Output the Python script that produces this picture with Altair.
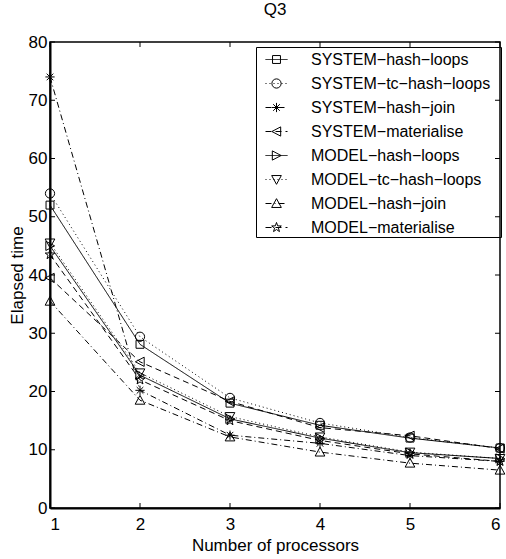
import altair as alt
import pandas as pd

# ---- data ----
processors = [1, 2, 3, 4, 5, 6]
series_names = [
    "SYSTEM\u2212hash\u2212loops",
    "SYSTEM\u2212tc\u2212hash\u2212loops",
    "SYSTEM\u2212hash\u2212join",
    "SYSTEM\u2212materialise",
    "MODEL\u2212hash\u2212loops",
    "MODEL\u2212tc\u2212hash\u2212loops",
    "MODEL\u2212hash\u2212join",
    "MODEL\u2212materialise",
]
sys_hash_loops = [52.0, 28.1, 18.0, 14.2, 12.0, 10.3]
sys_tc_hash_loops = [54.0, 29.4, 18.9, 14.6, 12.1, 10.3]
sys_hash_join = [74.0, 20.2, 12.5, 11.1, 9.0, 8.0]
sys_materialise = [39.5, 25.1, 18.3, 13.8, 12.4, 10.2]
mod_hash_loops = [45.0, 22.8, 15.3, 12.0, 9.5, 8.5]
mod_tc_hash_loops = [45.5, 23.2, 15.7, 12.2, 9.6, 8.5]
mod_hash_join = [35.5, 18.5, 12.2, 9.6, 7.7, 6.5]
mod_materialise = [43.5, 22.0, 15.0, 11.6, 9.3, 8.0]
x_ticks = [1, 2, 3, 4, 5, 6]
y_ticks = [0, 10, 20, 30, 40, 50, 60, 70, 80]

all_values = [sys_hash_loops, sys_tc_hash_loops, sys_hash_join, sys_materialise,
              mod_hash_loops, mod_tc_hash_loops, mod_hash_join, mod_materialise]

rows = []
for name, vals in zip(series_names, all_values):
    for p, v in zip(processors, vals):
        rows.append({"series": name, "series2": name, "p": p, "t": v})
df = pd.DataFrame(rows)

# ---- styles ----
SOLID = [1, 0]
DOT = [1, 3]
DASH = [6, 4]
DASHDOT = [6, 3, 1, 3]
dashes = [SOLID, DOT, DASHDOT, DASH, SOLID, DOT, DASHDOT, DASH]

square = "M-0.36,-0.36H0.36V0.36H-0.36Z"
circle = "M-0.42,0A0.42,0.42 0 1,0 0.42,0A0.42,0.42 0 1,0 -0.42,0Z"
asterisk = "M-0.42,0H0.42M0,-0.42V0.42M-0.3,-0.3L0.3,0.3M-0.3,0.3L0.3,-0.3"
tri_left = "M-0.42,0L0.38,-0.42L0.38,0.42Z"
tri_right = "M0.42,0L-0.38,-0.42L-0.38,0.42Z"
tri_down = "M-0.44,-0.36L0.44,-0.36L0,0.44Z"
tri_up = "M-0.44,0.36L0.44,0.36L0,-0.44Z"
star = ("M0,-0.46L0.108,-0.149L0.437,-0.142L0.175,0.057L0.27,0.372L0,0.184"
        "L-0.27,0.372L-0.175,0.057L-0.437,-0.142L-0.108,-0.149Z")
shapes = [square, circle, asterisk, tri_left, tri_right, tri_down, tri_up, star]

FONT = "Liberation Sans"
FS = 17
LFS = 16
W, H = 450, 466
SYM = 484

x_scale = alt.Scale(domain=[1, 6], nice=False, zero=False)
y_scale = alt.Scale(domain=[0, 80], nice=False, zero=False)

x_enc = alt.X("p:Q", scale=x_scale,
              axis=alt.Axis(values=x_ticks, title="Number of processors", format="d",
                            labelPadding=8, titlePadding=5))
y_enc = alt.Y("t:Q", scale=y_scale,
              axis=alt.Axis(values=y_ticks, title="Elapsed time", format="d",
                            labelPadding=3, titlePadding=2))

common_leg = dict(orient="none", legendX=206, legendY=5, title=None,
                  labelFontSize=LFS, labelFont=FONT, labelColor="black",
                  symbolSize=SYM, padding=1, rowPadding=4, symbolOffset=8,
                  symbolStrokeColor="black", symbolStrokeWidth=1,
                  labelLimit=400)

lines = alt.Chart(df).mark_line(color="black", strokeWidth=1).encode(
    x=x_enc, y=y_enc,
    strokeDash=alt.StrokeDash(
        "series:N", scale=alt.Scale(domain=series_names, range=dashes),
        legend=alt.Legend(symbolType="stroke", labelOffset=23, **common_leg)),
)

points = alt.Chart(df).mark_point(color="black", filled=False, size=SYM,
                                  strokeWidth=1, opacity=1).encode(
    x=alt.X("p:Q", scale=x_scale), y=alt.Y("t:Q", scale=y_scale),
    shape=alt.Shape(
        "series2:N", sort=series_names, scale=alt.Scale(range=shapes),
        legend=alt.Legend(labelExpr="''", strokeColor="black", labelOffset=212,
                          symbolFillColor="transparent", **common_leg)),
)

xt = pd.DataFrame({"x": x_ticks})
yt = pd.DataFrame({"y": y_ticks})
tick_bottom = alt.Chart(xt).mark_rule(color="black", strokeWidth=1).encode(
    x=alt.X("x:Q", scale=x_scale), y=alt.value(H), y2=alt.value(H - 5))
tick_top = alt.Chart(xt).mark_rule(color="black", strokeWidth=1).encode(
    x=alt.X("x:Q", scale=x_scale), y=alt.value(0), y2=alt.value(5))
tick_left = alt.Chart(yt).mark_rule(color="black", strokeWidth=1).encode(
    y=alt.Y("y:Q", scale=y_scale), x=alt.value(0), x2=alt.value(5))
tick_right = alt.Chart(yt).mark_rule(color="black", strokeWidth=1).encode(
    y=alt.Y("y:Q", scale=y_scale), x=alt.value(W), x2=alt.value(W - 5))

chart = alt.layer(lines, points, tick_bottom, tick_top, tick_left, tick_right).resolve_scale(
    strokeDash="independent", shape="independent"
).properties(
    width=W, height=H,
    title=alt.TitleParams("Q3", fontSize=FS, font=FONT, fontWeight="normal",
                          color="black", anchor="middle", offset=14),
    autosize=alt.AutoSizeParams(type="none"),
    padding={"left": 50, "top": 42, "right": 6, "bottom": 51},
    background="white",
).configure_view(
    stroke="black", strokeWidth=1.5
).configure_axis(
    labelFont=FONT, labelFontSize=FS, labelColor="black",
    titleFont=FONT, titleFontSize=FS, titleColor="black", titleFontWeight="normal",
    tickSize=0, domainColor="black", domainWidth=2, grid=False,
)

chart.save("out.html", embed_options={"renderer": "svg", "actions": False})
